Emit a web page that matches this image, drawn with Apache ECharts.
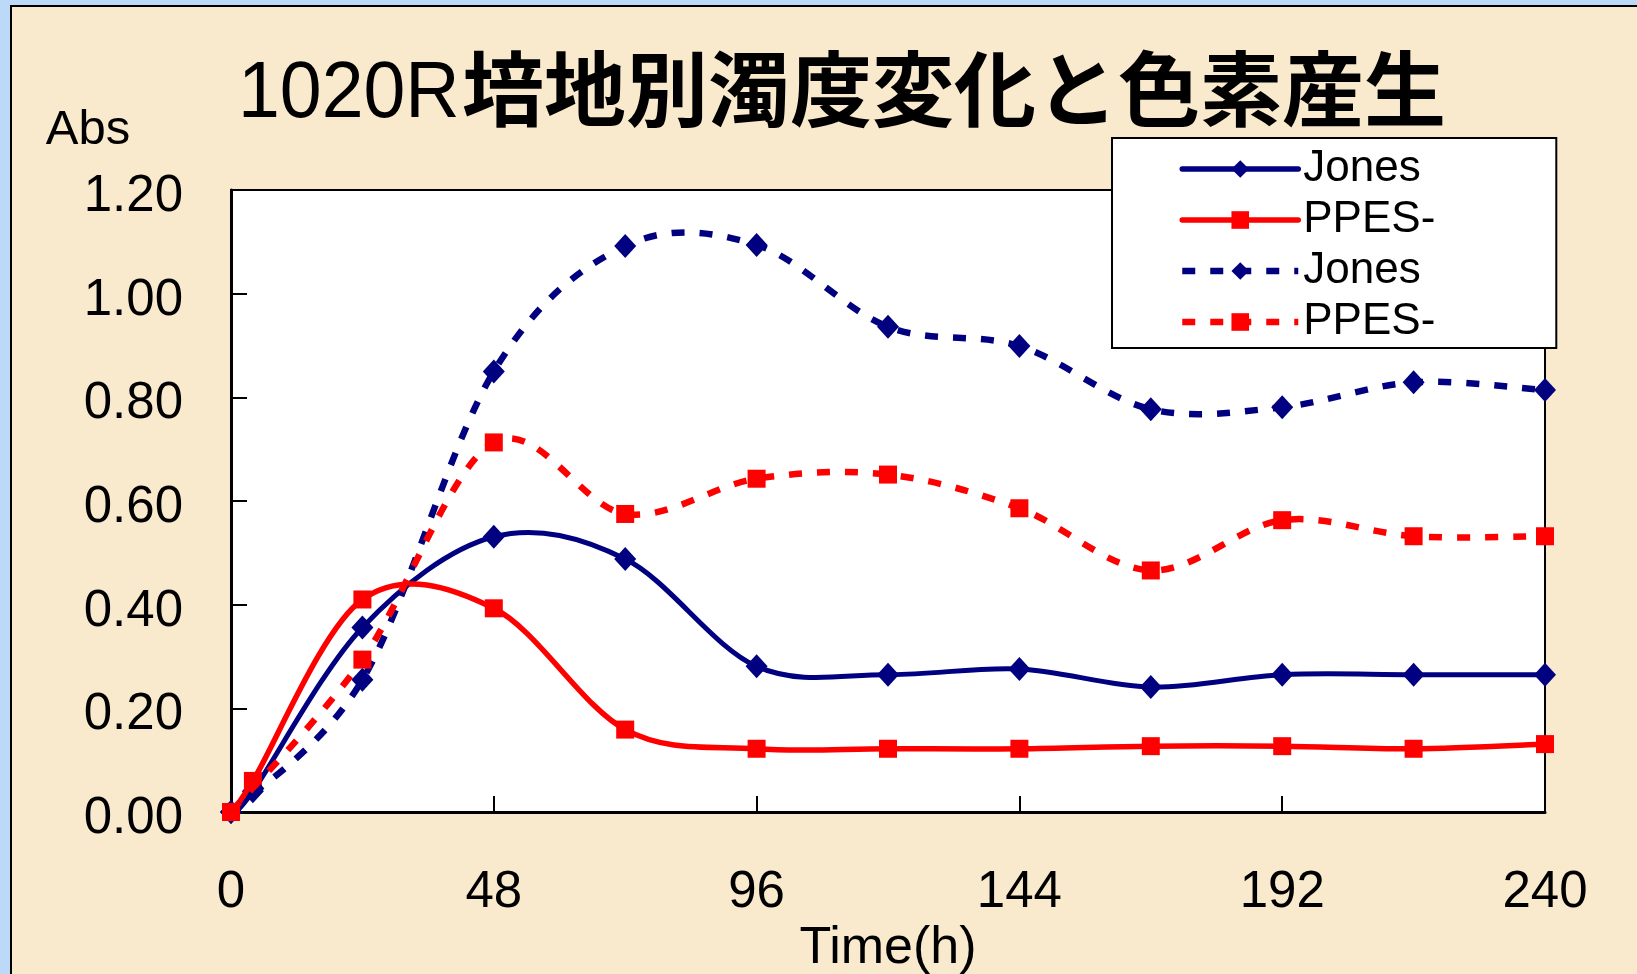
<!DOCTYPE html>
<html>
<head>
<meta charset="utf-8">
<script src="https://cdn.jsdelivr.net/npm/echarts@6/dist/echarts.min.js"></script>
<style>
  html, body { margin: 0; padding: 0; width: 1637px; height: 974px; overflow: hidden; background: #bcd9f7; }
  #frame { position: absolute; left: 10px; top: 5px; right: 0; bottom: 0;
           border-left: 2px solid #000; border-top: 2px solid #000; background: #f9eacd; }
  #chart { position: absolute; left: 0; top: 0; width: 1637px; height: 974px; }
</style>
</head>
<body>
<div id="frame"></div>
<div id="chart"></div>
<script>
// Sampling times (h)
const timesOD = [0, 4, 24, 48, 72, 96, 120, 144, 168, 192, 216, 240];
const timesPigment = [0, 24, 48, 72, 96, 120, 144, 168, 192, 216, 240];

// Turbidity (solid lines)
const jonesOD = [0, 0.04, 0.356, 0.531, 0.488, 0.281, 0.265, 0.276, 0.241, 0.265, 0.265, 0.265];
const ppesOD  = [0, 0.06, 0.410, 0.393, 0.159, 0.122, 0.122, 0.122, 0.127, 0.127, 0.122, 0.131];

// Pigment production (dashed lines)
const jonesPigment = [0, 0.255, 0.850, 1.092, 1.094, 0.936, 0.899, 0.777, 0.781, 0.829, 0.814];
const ppesPigment  = [0, 0.294, 0.713, 0.575, 0.643, 0.651, 0.586, 0.466, 0.563, 0.532, 0.532];

// Axis ticks
const xTicks = { min: 0, max: 240, step: 48 };
const yTicks = { min: 0, max: 1.2, step: 0.2 };

const NAVY = '#000080';
const RED = '#ff0000';
const LATIN = '"Liberation Sans", Arial, sans-serif';
const CJK = '"Noto Sans CJK JP", sans-serif';
const DASH = [13, 15];

const pairs = (xs, ys) => xs.map((x, i) => [x, ys[i]]);

// Curve style of each data set
const curves = [
  { name: 'Jones 濁度',  xs: timesOD,      ys: jonesOD,      color: NAVY, width: 5,   dash: null, symbol: 'diamond' },
  { name: 'PPES- 濁度',  xs: timesOD,      ys: ppesOD,       color: RED,  width: 5.5, dash: null, symbol: 'rect' },
  { name: 'Jones 色素',  xs: timesPigment, ys: jonesPigment, color: NAVY, width: 6.5, dash: DASH, symbol: 'diamond' },
  { name: 'PPES- 色素',  xs: timesPigment, ys: ppesPigment,  color: RED,  width: 6.5, dash: DASH, symbol: 'rect' }
];

// Cardinal (Catmull-Rom) spline through the projected points
function splinePath(pts) {
  let d = 'M' + pts[0][0] + ' ' + pts[0][1];
  for (let i = 0; i < pts.length - 1; i++) {
    const p0 = pts[Math.max(i - 1, 0)];
    const p1 = pts[i];
    const p2 = pts[i + 1];
    const p3 = pts[Math.min(i + 2, pts.length - 1)];
    const c1x = p1[0] + (p2[0] - p0[0]) / 6, c1y = p1[1] + (p2[1] - p0[1]) / 6;
    const c2x = p2[0] - (p3[0] - p1[0]) / 6, c2y = p2[1] - (p3[1] - p1[1]) / 6;
    d += ' C' + c1x + ' ' + c1y + ' ' + c2x + ' ' + c2y + ' ' + p2[0] + ' ' + p2[1];
  }
  return d;
}

const curveSeries = curves.map((c, k) => ({
  type: 'custom',
  name: c.name + ' curve',
  coordinateSystem: 'cartesian2d',
  data: pairs(c.xs, c.ys),
  encode: { x: 0, y: 1 },
  z: 2 + k * 2,
  silent: true,
  animation: false,
  renderItem: (params, api) => {
    if (params.dataIndex !== 0) return null;
    const pts = c.xs.map((x, i) => api.coord([x, c.ys[i]]));
    return {
      type: 'path',
      shape: { pathData: splinePath(pts) },
      style: {
        fill: null, stroke: c.color, lineWidth: c.width,
        lineDash: c.dash, lineCap: c.dash ? 'butt' : 'round', lineJoin: 'round'
      }
    };
  }
}));

const markerSeries = curves.map((c, k) => ({
  type: 'line',
  name: c.name,
  data: pairs(c.xs, c.ys),
  z: 3 + k * 2,
  symbol: c.symbol,
  symbolSize: c.symbol === 'diamond' ? [22, 24] : [18, 18],
  showAllSymbol: true,
  itemStyle: { color: c.color },
  lineStyle: { opacity: 0, width: 1 },
  emphasis: { disabled: true },
  silent: true,
  animation: false
}));

const chart = echarts.init(document.getElementById('chart'), null, { renderer: 'canvas' });

chart.setOption({
  backgroundColor: 'transparent',
  animation: false,
  textStyle: { fontFamily: LATIN, color: '#000' },
  graphic: [
    {
      type: 'text', x: 238, y: 95, scaleX: 0.94,
      style: { text: '1020R', fontSize: 80, fontFamily: LATIN, fill: '#000', verticalAlign: 'middle' }
    },
    {
      type: 'text', x: 462, y: 89,
      style: { text: '培地別濁度変化と色素産生', fontSize: 82, fontWeight: 'bold', fontFamily: CJK, fill: '#000', verticalAlign: 'middle' }
    },
    {
      type: 'text', x: 88, y: 130,
      style: { text: 'Abs', fontSize: 49, fontFamily: LATIN, fill: '#000', align: 'center', verticalAlign: 'middle' }
    }
  ],
  grid: {
    left: 231, right: 92, top: 190, bottom: 162,
    outerBoundsMode: 'none',
    containLabel: false,
    show: true, backgroundColor: '#ffffff', borderColor: '#000', borderWidth: 2
  },
  legend: {
    orient: 'vertical',
    left: 1112, top: 138,
    padding: [9, 121, 4, 67],
    itemWidth: 116, itemHeight: 22, itemGap: 7,
    backgroundColor: '#ffffff', borderColor: '#000', borderWidth: 2,
    textStyle: { fontSize: 44, lineHeight: 44, fontFamily: LATIN, color: '#000' },
    data: curves.map(c => ({
      name: c.name,
      lineStyle: {
        color: c.color, width: c.dash ? 6.5 : 5.5, opacity: 1,
        type: c.dash ? c.dash : 'solid', cap: c.dash ? 'butt' : 'round'
      }
    })),
    formatter: (n) => n.split(' ')[0],
    selectedMode: false
  },
  xAxis: {
    type: 'value',
    min: xTicks.min, max: xTicks.max, interval: xTicks.step,
    name: 'Time(h)', nameLocation: 'middle', nameGap: 99,
    nameTextStyle: { fontSize: 52, fontFamily: LATIN, color: '#000' },
    axisLine: { show: true, onZero: false, lineStyle: { color: '#000', width: 3 } },
    axisTick: { show: true, inside: true, length: 16, lineStyle: { color: '#000', width: 2 } },
    axisLabel: { fontSize: 51, color: '#000', margin: 55, fontFamily: LATIN },
    splitLine: { show: false }
  },
  yAxis: {
    type: 'value',
    min: yTicks.min, max: yTicks.max, interval: yTicks.step,
    axisLine: { show: true, onZero: false, lineStyle: { color: '#000', width: 3 } },
    axisTick: { show: true, inside: true, length: 16, lineStyle: { color: '#000', width: 2 } },
    axisLabel: { fontSize: 51, color: '#000', margin: 48, fontFamily: LATIN,
                 verticalAlign: 'top', lineHeight: 14,
                 formatter: (v) => v.toFixed(2) },
    splitLine: { show: false }
  },
  series: curveSeries.concat(markerSeries)
});
</script>
</body>
</html>
